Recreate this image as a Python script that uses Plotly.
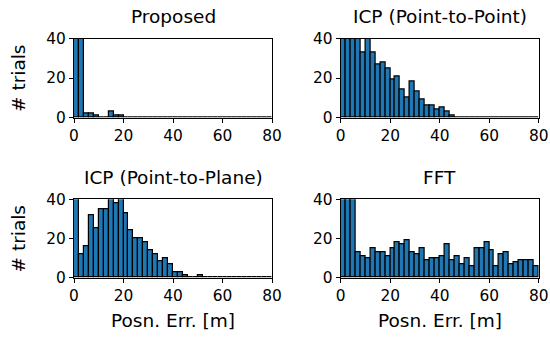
import plotly.graph_objects as go

# Histogram bins: 2 m wide, 0 to 80 m
bin_edges = list(range(0, 82, 2))
bin_centers = [(a + b) / 2 for a, b in zip(bin_edges[:-1], bin_edges[1:])]

titles = ["Proposed", "ICP (Point-to-Point)", "ICP (Point-to-Plane)", "FFT"]

# Trial counts per bin (first bins exceed the 40-trial axis limit)
proposed = [230, 62, 2, 2, 1, 0, 0, 3, 1, 1] + [0] * 30
icp_point = [62, 58, 52, 45, 33, 42, 33, 27, 28, 25, 19, 21, 14, 10, 18, 13,
             9, 6, 6, 4, 5, 3, 1, 0] + [0] * 16
icp_plane = [48, 12, 16, 32, 25, 35, 35, 41, 38, 41, 33, 24, 20, 20, 18, 14,
             12, 8.5, 10, 7, 3, 3, 1, 0, 0, 1] + [0] * 14
fft = [60, 55, 50, 13, 11, 10, 15, 13, 13, 11, 15, 18, 17, 19, 13, 12, 15, 9,
       10, 10, 11, 17, 9, 11, 7, 10, 6, 15, 15, 18, 14, 6, 12, 13, 7, 8, 9, 9,
       9, 6]

series = [proposed, icp_point, icp_plane, fft]

W, H = 550, 339
FONT = "DejaVu Sans"
TICK_SIZE = 15.4
TITLE_SIZE = 18.5
LABEL_SIZE = 18.5

# Axes boxes in pixels: (left, right, top, bottom)
boxes = [
    (74, 272, 38.5, 117.5),
    (340.7, 538.7, 38.5, 117.5),
    (74, 272, 199.3, 277.7),
    (340.7, 538.7, 199.3, 277.7),
]

fig = go.Figure()
layout = dict(
    width=W, height=H,
    margin=dict(l=0, r=0, t=0, b=0, autoexpand=False),
    plot_bgcolor="white", paper_bgcolor="white",
    showlegend=False, bargap=0,
    font=dict(family=FONT, size=TICK_SIZE, color="black"),
)

annotations = []
for i, (vals, (l, r, t, b)) in enumerate(zip(series, boxes)):
    n = "" if i == 0 else str(i + 1)
    fig.add_trace(go.Bar(
        x=bin_centers, y=vals, width=2,
        marker=dict(color="#1f77b4", line=dict(color="black", width=1.2)),
        xaxis="x" + n, yaxis="y" + n,
    ))
    axis_common = dict(
        showline=True, mirror=True, linecolor="black", linewidth=1.1,
        ticks="outside", ticklen=4, tickwidth=1.1, tickcolor="black",
        showgrid=False, zeroline=False, automargin=False,
        tickfont=dict(family=FONT, size=TICK_SIZE, color="black"),
    )
    layout["xaxis" + n] = dict(
        domain=[l / W, r / W], range=[0, 80], tickvals=[0, 20, 40, 60, 80],
        anchor="y" + n, **axis_common,
    )
    layout["yaxis" + n] = dict(
        domain=[1 - b / H, 1 - t / H], range=[0, 40], tickvals=[0, 20, 40],
        anchor="x" + n, **axis_common,
    )
    annotations.append(dict(
        text=titles[i], x=(l + r) / 2 / W, y=1 - (t - 22) / H,
        xref="paper", yref="paper", xanchor="center", yanchor="middle",
        showarrow=False, font=dict(family=FONT, size=TITLE_SIZE, color="black"),
    ))
    if i in (0, 2):
        annotations.append(dict(
            text="# trials", x=18 / W, y=1 - (t + b) / 2 / H, textangle=-90,
            xref="paper", yref="paper", xanchor="center", yanchor="middle",
            showarrow=False, font=dict(family=FONT, size=LABEL_SIZE, color="black"),
        ))
    if i in (2, 3):
        annotations.append(dict(
            text="Posn. Err. [m]", x=(l + r) / 2 / W, y=1 - 320 / H,
            xref="paper", yref="paper", xanchor="center", yanchor="middle",
            showarrow=False, font=dict(family=FONT, size=LABEL_SIZE, color="black"),
        ))

layout["annotations"] = annotations
fig.update_layout(**layout)
fig.write_html("out.html")
